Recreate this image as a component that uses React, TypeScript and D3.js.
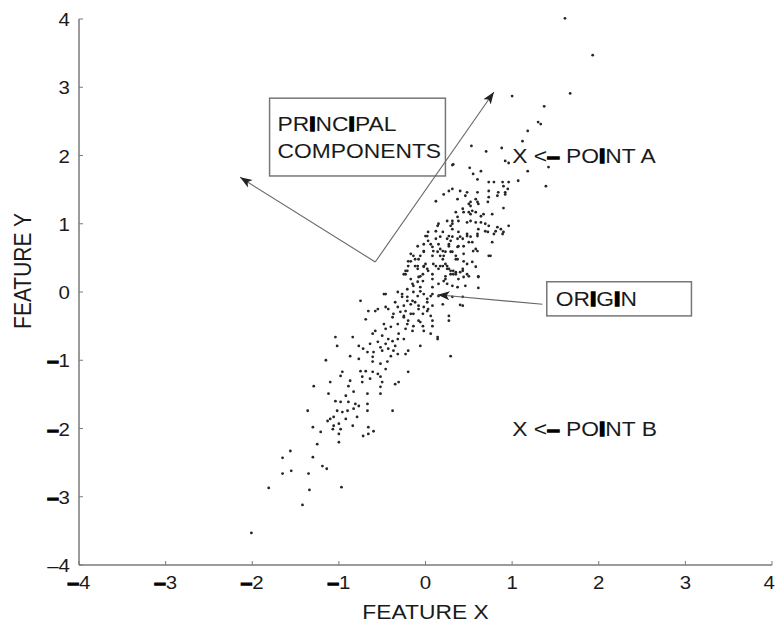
import * as d3 from 'd3'

// axis ticks (both axes share the same range)
const xTicks = [-4, -3, -2, -1, 0, 1, 2, 3, 4]
const yTicks = [-4, -3, -2, -1, 0, 1, 2, 3, 4]

const xLabel = 'FEATURE X'
const yLabel = 'FEATURE Y'

// samples, [feature x, feature y]
const samples: [number, number][] = [
  [1.61, 4.01], [1.93, 3.47], [1.67, 2.91], [1.0, 2.87], [1.37, 2.72], [1.3, 2.49], [1.33, 2.46], [1.18, 2.36],
  [1.12, 2.21], [0.53, 2.14], [0.7, 2.06], [0.88, 2.11], [0.92, 1.92], [0.96, 1.89], [0.32, 1.87], [1.42, 1.83],
  [0.51, 1.82], [1.18, 1.77], [1.07, 1.63], [1.39, 1.55], [0.9, 1.55], [0.92, 1.46], [0.9, 1.23], [0.96, 0.97],
  [0.9, 0.88], [0.64, 1.77], [0.55, 1.73], [0.73, 1.61], [0.79, 1.61], [0.89, 1.61], [0.95, 1.51], [0.31, 1.51],
  [0.27, 1.48], [0.12, 1.33], [0.4, 1.48], [0.48, 1.46], [0.46, 1.41], [0.6, 1.46], [0.58, 1.36], [0.73, 1.48],
  [0.73, 1.39], [0.84, 1.46], [0.83, 1.41], [0.37, 1.36], [0.52, 1.32], [0.72, 1.32], [0.35, 1.17], [0.44, 1.17],
  [0.54, 1.19], [0.67, 1.14], [0.77, 1.14], [0.14, 0.97], [0.25, 1.04], [0.37, 1.1], [0.38, 1.04], [0.52, 1.04],
  [0.64, 1.02], [0.83, 0.95], [0.87, 0.92], [0.03, 0.88], [0.2, 0.88], [0.31, 0.92], [0.38, 0.88], [0.48, 0.85],
  [0.6, 0.85], [0.69, 0.89], [0.89, 0.85], [0.77, 0.73], [0.02, 0.82], [0.12, 0.78], [0.25, 0.78], [0.37, 0.78],
  [0.43, 0.78], [0.52, 0.81], [0.54, 0.73], [-0.09, 0.67], [-0.02, 0.7], [0.08, 0.66], [0.17, 0.63], [0.27, 0.67],
  [0.37, 0.66], [0.44, 0.67], [0.6, 0.6], [0.75, 0.53], [-0.17, 0.56], [-0.14, 0.53], [-0.06, 0.53], [0.08, 0.53],
  [0.17, 0.53], [0.29, 0.59], [0.35, 0.48], [0.44, 0.45], [-0.17, 0.45], [-0.09, 0.38], [-0.02, 0.38], [0.02, 0.34],
  [0.09, 0.41], [0.17, 0.38], [0.25, 0.34], [0.29, 0.31], [0.32, 0.26], [0.43, 0.31], [0.5, 0.23], [-0.21, 0.31],
  [-0.23, 0.26], [-0.06, 0.23], [0.61, 0.23], [0.5, 1.29], [0.61, 1.29], [0.52, 1.14], [0.31, 1.04], [0.29, 0.97],
  [0.48, 1.02], [0.58, 1.02], [0.69, 1.0], [0.73, 0.97], [0.81, 0.89], [0.79, 0.85], [0.15, 1.0], [0.0, 0.82],
  [0.17, 0.81], [0.27, 0.82], [0.31, 0.81], [0.4, 0.81], [0.48, 0.82], [0.5, 0.73], [0.6, 0.82], [0.72, 0.88],
  [0.06, 0.7], [0.29, 0.75], [0.27, 0.7], [0.38, 0.67], [0.55, 0.6], [0.73, 0.53], [-0.02, 0.6], [0.09, 0.6],
  [0.14, 0.59], [0.2, 0.6], [0.23, 0.59], [0.31, 0.59], [0.35, 0.53], [0.44, 0.56], [-0.2, 0.45], [-0.08, 0.48],
  [0.2, 0.48], [0.37, 0.48], [0.48, 0.41], [-0.23, 0.31], [-0.09, 0.34], [-0.02, 0.37], [0.03, 0.31], [0.12, 0.38],
  [0.15, 0.34], [0.23, 0.41], [0.27, 0.34], [0.32, 0.31], [0.35, 0.29], [0.43, 0.34], [0.58, 0.37], [-0.25, 0.26],
  [-0.03, 0.26], [0.08, 0.26], [0.23, 0.23], [0.29, 0.26], [0.35, 0.26], [0.4, 0.29], [-0.03, 0.16], [0.08, 0.19],
  [0.21, 0.16], [0.25, 0.12], [0.38, 0.19], [0.44, 0.22], [-0.17, 0.19], [-0.14, 0.09], [-0.06, 0.07], [0.08, 0.07],
  [0.37, 0.07], [0.61, 0.06], [-0.46, -0.03], [-0.27, -0.03], [-0.21, -0.07], [-0.09, -0.06], [-0.02, -0.03], [0.06, -0.06],
  [0.15, -0.06], [0.31, -0.07], [0.43, -0.07], [-0.35, -0.15], [-0.32, -0.22], [-0.25, -0.2], [-0.23, -0.28], [-0.15, -0.13],
  [-0.08, -0.2], [0.02, -0.15], [0.03, -0.25], [0.08, -0.2], [0.2, -0.18], [-0.55, -0.25], [-0.46, -0.22], [-0.43, -0.25],
  [-0.37, -0.32], [-0.29, -0.29], [-0.25, -0.35], [-0.14, -0.32], [-0.03, -0.32], [0.43, -0.2], [-1.04, -0.66], [-1.02, -0.79],
  [-0.84, -0.66], [-0.75, -0.13], [-0.66, -0.28], [-0.58, -0.28], [-0.69, -0.4], [-0.21, 0.04], [-0.15, 0.12], [-0.09, 0.15],
  [-0.08, 0.22], [-0.06, 0.01], [0.02, -0.1], [0.08, -0.03], [-0.12, -0.15], [-0.17, -0.18], [-0.25, -0.37], [-0.17, -0.32],
  [-0.2, -0.42], [-0.08, -0.25], [-0.02, -0.22], [0.02, -0.28], [0.06, -0.35], [0.08, -0.42], [-0.08, -0.42], [-0.14, -0.5],
  [-0.15, -0.57], [-0.21, -0.47], [-0.23, -0.54], [-0.32, -0.47], [-0.38, -0.37], [-0.4, -0.51], [-0.48, -0.47], [-0.46, -0.54],
  [-0.58, -0.57], [-0.61, -0.61], [-0.5, -0.64], [-0.43, -0.69], [-0.38, -0.72], [-0.31, -0.61], [-0.32, -0.69], [-0.25, -0.69],
  [-0.06, -0.44], [-0.03, -0.5], [-0.02, -0.57], [0.06, -0.61], [0.14, -0.69], [0.27, -0.35], [0.27, -0.42], [0.08, -0.5],
  [-0.77, -0.79], [-0.72, -0.83], [-0.64, -0.76], [-0.55, -0.73], [-0.52, -0.81], [-0.46, -0.76], [-0.43, -0.83], [-0.35, -0.79],
  [-0.67, -0.88], [-0.6, -0.88], [-0.5, -0.86], [-0.37, -0.86], [-0.2, -0.86], [-0.06, -0.79], [0.29, -0.94], [-0.12, 0.38],
  [0.48, 0.26], [0.61, 0.22], [0.23, 0.19], [0.31, 0.09], [0.46, 0.09], [0.15, 0.12], [-0.14, 0.0], [-1.15, -1.0],
  [-0.87, -0.94], [-0.77, -0.98], [-0.61, -0.95], [-0.61, -1.02], [-0.52, -1.05], [-0.44, -1.02], [-0.4, -0.94], [-0.32, -0.91],
  [-0.23, -0.91], [-1.29, -1.38], [-1.1, -1.32], [-0.96, -1.17], [-0.98, -1.23], [-0.87, -1.3], [-0.75, -1.16], [-0.69, -1.16],
  [-0.61, -1.17], [-0.73, -1.24], [-0.73, -1.32], [-0.64, -1.27], [-0.55, -1.2], [-0.52, -1.24], [-0.46, -1.13], [-0.5, -1.32],
  [-0.52, -1.39], [-0.2, -1.17], [-0.35, -1.35], [-0.31, -1.32], [-1.12, -1.49], [-1.04, -1.6], [-0.98, -1.61], [-0.92, -1.52],
  [-0.89, -1.38], [-0.83, -1.46], [-0.89, -1.61], [-0.81, -1.64], [-0.77, -1.67], [-0.67, -1.49], [-0.67, -1.64], [-0.52, -1.49],
  [-0.83, -1.71], [-0.9, -1.74], [-1.02, -1.74], [-0.96, -1.76], [-0.67, -1.74], [-0.38, -1.74], [-1.36, -1.74], [-0.79, -1.83],
  [-0.92, -1.86], [-1.06, -1.83], [-1.1, -1.86], [-1.13, -1.89], [-1.0, -1.93], [-1.06, -1.96], [-1.07, -2.01], [-0.98, -2.01],
  [-0.84, -1.96], [-1.3, -1.98], [-1.21, -2.05], [-0.66, -1.98], [-0.6, -2.04], [-0.66, -2.08], [-0.72, -2.11], [-1.0, -2.08],
  [-1.0, -2.2], [-1.25, -2.23], [-1.3, -2.42], [-1.56, -2.33], [-1.65, -2.43], [-1.19, -2.55], [-1.14, -2.59], [-1.65, -2.66],
  [-1.55, -2.62], [-1.35, -2.66], [-1.81, -2.87], [-1.34, -2.9], [-0.97, -2.86], [-1.42, -3.12], [-2.01, -3.53], [0.4, -0.19],
  [0.14, -0.66], [-0.48, -0.03], [-0.32, 0.0], [-0.27, -0.07], [-0.21, -0.13], [0.31, 1.86], [0.6, 1.65], [0.96, 1.61],
  [0.92, 1.43], [0.21, 1.43], [0.6, 1.32], [0.52, 1.26], [0.43, 1.22], [0.5, 1.17], [0.58, 1.17], [0.64, 1.11],
  [0.31, 1.0], [0.61, 0.92], [0.12, 0.89], [0.03, 0.75], [0.15, 0.7], [0.58, 0.63], [-0.12, 0.48], [-0.02, 0.59],
  [0.21, 0.53], [0.54, 0.44], [-0.2, 0.38], [0.0, 0.41], [0.2, 0.38], [0.25, 0.38],
]

// annotations, in data units
const pcLines = ['PRINCIPAL', 'COMPONENTS']
const pcBox = { x0: -1.8, y0: 2.84, x1: 0.23, y1: 1.7 }
const pcFrom: [number, number] = [-0.58, 0.44]
const pcTips: [number, number][] = [[0.79, 2.93], [-2.14, 1.68]]
const originBox = { x0: 1.4, y0: 0.15, x1: 3.07, y1: -0.35 }
const originFrom: [number, number] = [1.35, -0.18]
const originTip: [number, number] = [0.14, -0.04]
const pointLabels = [
  { x: 1, y: 2, name: 'A' },
  { x: 1, y: -2, name: 'B' },
]

const FONT = '"Liberation Sans", Arial, Helvetica, sans-serif'
const INK = '#1a1a1a'
const AXIS = '#7a7a7a'
const SX = 1.17

// heavy glyphs (the scan prints capital I and the dashes as thick black bars)
function Heavy({ c }: { c: string }) {
  return (
    <tspan fontWeight="bold" fill="#000" stroke="#000" strokeWidth={1.3}>
      {c}
    </tspan>
  )
}

function Caps({ s }: { s: string }) {
  return (
    <>
      {s.split(/(I)/).map((part, i) =>
        part === 'I' ? <Heavy key={i} c="I" /> : <tspan key={i}>{part}</tspan>
      )}
    </>
  )
}

export default function App() {
  const width = 776
  const height = 624

  const x = d3.scaleLinear().domain([-4, 4]).range([79, 772])
  const y = d3.scaleLinear().domain([-4, 4]).range([565, 19])

  const txt = (px: number, py: number) => `translate(${px},${py}) scale(${SX},1)`

  return (
    <svg
      width={width}
      height={height}
      style={{ position: 'absolute', left: 0, top: 0, background: '#fff' }}
      fontFamily={FONT}
    >
      <defs>
        <marker id="head" viewBox="0 0 12 10" refX="12" refY="5" markerWidth="12" markerHeight="10"
          markerUnits="userSpaceOnUse" orient="auto">
          <path d="M0,0.5 L12,5 L0,9.5 L3,5 Z" fill="#222" />
        </marker>
      </defs>

      {/* axes */}
      <line x1={x(-4)} x2={x(-4)} y1={y(4)} y2={y(-4)} stroke={AXIS} strokeWidth={1.5} />
      <line x1={x(-4)} x2={x(4)} y1={y(-4)} y2={y(-4)} stroke={AXIS} strokeWidth={1.5} />
      {xTicks.map((t, i) => {
        const last = i === xTicks.length - 1
        return (
          <g key={'x' + t}>
            <line x1={x(t)} x2={x(t)} y1={y(-4)} y2={y(-4) - 4} stroke={AXIS} strokeWidth={1} />
            <text transform={txt(last ? width - 1 : x(t), 589)} textAnchor={last ? 'end' : 'middle'}
              fontSize={17.5} fill={INK}>
              {t < 0 ? <Heavy c="–" /> : null}
              {Math.abs(t)}
            </text>
          </g>
        )
      })}
      {yTicks.map((t) => (
        <g key={'y' + t}>
          <line x1={x(-4)} x2={x(-4) + 4} y1={y(t)} y2={y(t)} stroke={AXIS} strokeWidth={1} />
          <text transform={txt(70, y(t) + 7)} textAnchor="end" fontSize={17.5} fill={INK}>
            {t < 0 ? (t === -4 ? <tspan>–</tspan> : <Heavy c="–" />) : null}
            {Math.abs(t)}
          </text>
        </g>
      ))}
      <text transform={txt(x(0), 619)} textAnchor="middle" fontSize={19.5} fill={INK}>
        {xLabel}
      </text>
      <text transform={`translate(31,${y(0) - 21}) scale(${SX},1) rotate(-90)`} textAnchor="middle" fontSize={21} fill={INK}>
        {yLabel}
      </text>

      {/* scatter */}
      {samples.map((d, i) => (
        <circle key={i} cx={x(d[0])} cy={y(d[1])} r={1.4} fill="#262626" />
      ))}

      {/* principal components box + arrows */}
      <rect x={x(pcBox.x0)} y={y(pcBox.y0)} width={x(pcBox.x1) - x(pcBox.x0)} height={y(pcBox.y1) - y(pcBox.y0)}
        fill="none" stroke="#777" strokeWidth={1.5} />
      {pcLines.map((l, i) => (
        <text key={l} transform={txt(x(pcBox.x0) + 8, y(pcBox.y0) + 33 + i * 27)} fontSize={19.5} fill={INK}>
          <Caps s={l} />
        </text>
      ))}
      {pcTips.map((tip, i) => (
        <line key={i} x1={x(pcFrom[0])} y1={y(pcFrom[1])} x2={x(tip[0])} y2={y(tip[1])}
          stroke="#666" strokeWidth={1.1} markerEnd="url(#head)" />
      ))}

      {/* origin */}
      <rect x={x(originBox.x0)} y={y(originBox.y0)} width={x(originBox.x1) - x(originBox.x0)}
        height={y(originBox.y1) - y(originBox.y0)} fill="none" stroke="#777" strokeWidth={1.5} />
      <text transform={txt(x(originBox.x0) + 9, y(originBox.y1) - 10)} fontSize={19.5} fill={INK}>
        <Caps s="ORIGIN" />
      </text>
      <line x1={x(originFrom[0])} y1={y(originFrom[1])} x2={x(originTip[0])} y2={y(originTip[1])}
        stroke="#666" strokeWidth={1.1} markerEnd="url(#head)" />

      {/* labelled points */}
      {pointLabels.map((p) => (
        <text key={p.name} transform={txt(x(p.x), y(p.y) + 7)} fontSize={19.5} fill={INK}>
          {'X <'}
          <Heavy c="–" />
          {' PO'}
          <Heavy c="I" />
          {'NT ' + p.name}
        </text>
      ))}
    </svg>
  )
}
